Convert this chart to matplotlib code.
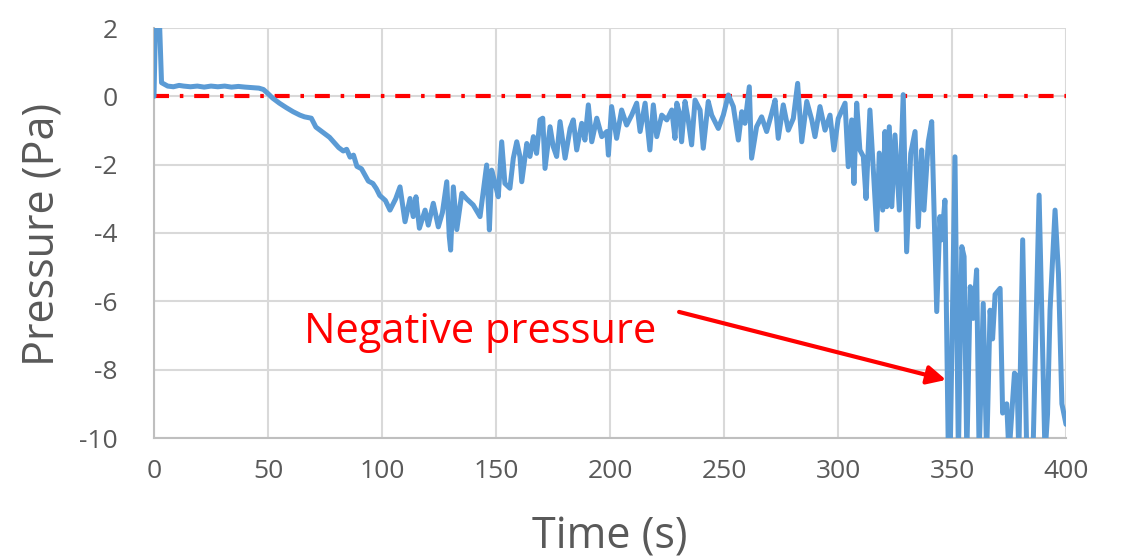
import matplotlib
matplotlib.use("Agg")
import matplotlib.pyplot as plt
import numpy as np

# ---------------- data ----------------
time_s = [
    0, 0.8, 2.2, 3.3, 6, 8.5, 11, 13, 16, 19, 22, 25, 28, 31, 34, 37, 40, 42, 44, 46,
    48, 50, 52, 55, 58, 61, 64, 66, 69, 71, 74, 77, 79, 81, 83, 84.5, 86, 87.5, 89, 91,
    92.5, 94, 96, 97.5, 99,
    101.5, 103.5, 106, 107.9, 110.1, 112.3, 113.7, 114.9, 116.4, 118.9, 120.3, 122.5,
    124.7, 126.5, 128.4, 129.5, 130.1, 131.3, 132.8, 135, 137.1, 140, 143, 145.9, 147.1,
    148.1, 149.6, 151, 152.5,
    153.9, 156.1, 157.6, 159.1, 160.5, 161.3, 163.5, 164.9, 166.4, 167.8, 169.3, 170.5,
    171.5, 173.7, 175.1, 176.6, 178.1, 180.3, 182.5, 183.9, 185.4, 187.6, 189, 190.5,
    192, 194.2, 196.4, 198.6, 199.3, 200.7, 202.9, 205.1, 207.3, 209.5, 211.7, 213.2,
    215.4, 217.5, 219, 220.5, 222.7, 224.9, 227.1, 228.5, 229.3, 230.7, 231.4, 232.9,
    234.3, 235.8, 237.3, 239.5, 240.9, 243.1, 244.6, 247.5, 249.7, 251.9, 254.1, 256.3,
    257.8, 259.2, 261.1, 262.1, 264.3, 266.5, 268.7, 270.9, 272.4, 273.8, 276, 278.2,
    280.4, 282.3, 284.1, 286.3, 288.5, 289.9, 292.1, 294.3, 296.5, 298.2, 300.1,
    303.1, 304.5, 306, 307, 308.2, 309.6, 311.1, 312.3, 314, 315.5, 317, 318.1, 319.6,
    320.6, 321.4, 322.5, 323.6, 325, 326.9, 328.6, 330.1, 331.9, 333.8, 335.2, 336.7,
    337.7, 339.6, 341.1, 343.3, 344.7, 345.5, 346.9, 348.4, 349.2, 351.3, 352.8, 354.3,
    355.3, 356.5, 358, 359.3, 360.8, 361.9, 363.7, 365.2, 366.7, 367.8, 368.9, 371.1,
    372.2, 374, 375, 377.4, 378.5, 379.3, 381, 382.8, 385.5, 388.2, 390.8, 391.9, 393,
    395.2, 396.7, 398.2, 400,
]
pressure_pa = [
    0.0, 2.6, 2.6, 0.4, 0.3, 0.28, 0.32, 0.3, 0.28, 0.3, 0.27, 0.3, 0.28, 0.3, 0.27, 0.29, 0.27, 0.26, 0.25, 0.24,
    0.2, 0.08, -0.05, -0.2, -0.33, -0.45, -0.55, -0.6, -0.64, -0.9, -1.05, -1.2, -1.35, -1.5, -1.6, -1.55, -1.78, -1.72, -2.05, -2.12,
    -2.3, -2.48, -2.55, -2.7, -2.9,
    -3.05, -3.33, -3.0, -2.65, -3.67, -2.99, -3.52, -2.94, -3.86, -3.33, -3.77, -3.13,
    -3.82, -3.4, -2.5, -4.1, -4.5, -2.65, -3.9, -2.84, -3.0, -3.18, -3.52, -2.01, -3.91,
    -2.16, -2.55, -2.94, -1.33,
    -2.55, -2.69, -1.81, -1.33, -1.76, -2.5, -1.38, -1.76, -1.18, -1.67, -0.69, -0.64,
    -2.11, -0.89, -1.47, -1.76, -0.74, -1.81, -0.94, -0.69, -1.57, -0.79, -1.28, -0.25,
    -1.33, -0.64, -1.18, -1.03, -1.72, -0.3, -1.23, -0.4, -0.84, -0.55, -0.2, -1.03,
    -0.2, -1.57, -0.25, -1.18, -0.55, -0.69, -0.4, -1.23, -0.2, -0.55, -1.33, -0.15,
    -0.69, -1.42, -0.11, -0.4, -1.52, -0.15, -0.55, -0.94, -0.55, 0.04, -0.3, -1.28,
    -0.45, -0.79, 0.28, -1.81, -0.89, -0.6, -1.03, -0.5, -0.11, -1.23, -0.25, -0.99,
    -0.65, 0.38, -1.33, -0.15, -0.69, -1.18, -0.3, -0.99, -0.55, -1.57, -0.65,
    -0.2, -2.06, -0.69, -2.55, -0.2, -1.57, -1.76, -2.99, -0.4, -2.16, -3.91, -1.66, -3.33,
    -1.03, -3.23, -0.89, -3.23, -1.13, -3.33, 0.05, -4.55, -1.67, -1.03, -3.82, -1.57,
    -3.33, -1.33, -0.74, -6.3, -3.52, -4.2, -3.04, -10.5, -10.5, -1.77, -10.5, -4.4,
    -4.69, -10.5, -5.57, -6.5, -5.08, -10.5, -6.06, -10.5, -6.26, -7.1, -5.8, -5.62,
    -9.27, -9.0, -10.5, -8.1, -8.2, -10.5, -4.2, -10.5, -10.5, -2.89, -10.5, -9.3, -6.26,
    -3.33, -5.2, -9.0, -9.6,
]
reference_level = 0.0
x_ticks = [0, 50, 100, 150, 200, 250, 300, 350, 400]
y_ticks = [2, 0, -2, -4, -6, -8, -10]
annotation_text = "Negative pressure"
annotation_text_pos = (66.0, -7.22)
annotation_arrow_start = (230.3, -6.31)
annotation_arrow_end = (347.4, -8.3)

# ---------------- figure ----------------
plt.rcParams['font.family'] = ['Open Sans', 'DejaVu Sans']
plt.rcParams['axes.unicode_minus'] = False
W, H = 1122, 560
fig = plt.figure(figsize=(W / 100, H / 100), dpi=100)
ax = fig.add_axes([154 / W, 1 - 438 / H, 912 / W, 410 / H])

ax.set_xlim(0, 400)
ax.set_ylim(-10, 2)
ax.set_xticks(x_ticks)
ax.set_yticks(y_ticks)
ax.grid(True, color='#D9D9D9', lw=1.5)
ax.set_axisbelow(True)
for s in ['top', 'right']:
    ax.spines[s].set_visible(False)
for s in ['left', 'bottom']:
    ax.spines[s].set_color('#BFBFBF')
    ax.spines[s].set_linewidth(1.5)
ax.tick_params(axis='both', length=0, labelcolor='#595959', labelsize=19)
ax.tick_params(axis='y', pad=26)
ax.tick_params(axis='x', pad=15)

ax.plot(time_s, pressure_pa, color='#5B9BD5', lw=3.6, solid_joinstyle='round',
        solid_capstyle='round', zorder=3)
ax.axhline(reference_level, color='#FF0000', lw=3.0,
           linestyle=(0, (3.6, 2.6, 0.85, 2.6)), zorder=2)

ax.text(*annotation_text_pos, annotation_text, color='#FF0000', fontsize=30,
        ha='left', va='baseline', zorder=4)
ax.annotate('', xy=annotation_arrow_end, xytext=annotation_arrow_start,
            arrowprops=dict(arrowstyle='-|>', color='#FF0000', lw=3,
                            mutation_scale=28, shrinkA=0, shrinkB=0), zorder=4)

fig.text(42 / W, 1 - 234 / H, 'Pressure (Pa)', rotation=90, ha='center', va='center',
         fontsize=31, color='#595959')
fig.text(610 / W, 1 - 537 / H, 'Time (s)', ha='center', va='center',
         fontsize=31, color='#595959')

fig.savefig('out.png', dpi=100, facecolor='white')
